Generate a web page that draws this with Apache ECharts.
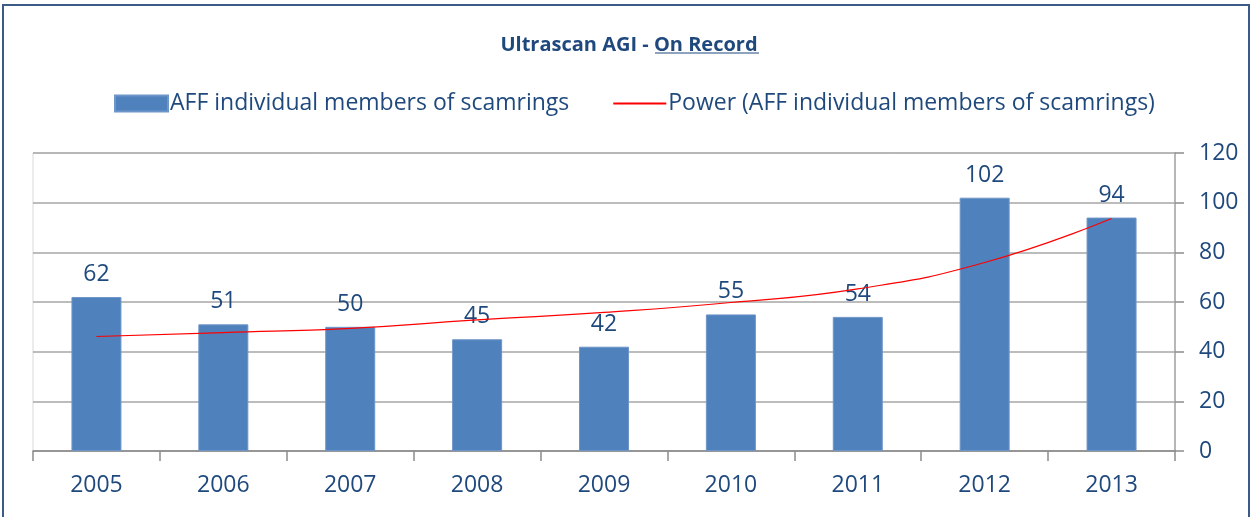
<!DOCTYPE html>
<html>
<head>
<meta charset="utf-8">
<script src="https://cdn.jsdelivr.net/npm/echarts@6/dist/echarts.min.js"></script>
<style>
  html, body { margin: 0; padding: 0; background: #fff; }
  .frame {
    position: absolute;
    left: 2px;
    top: 4px;
    width: 1248px;
    height: 530px;
    border: 2px solid #3b5a86;
    box-sizing: border-box;
  }
  #chart { position: absolute; left: 0; top: 0; width: 1258px; height: 517px; }
</style>
</head>
<body>
<div class="frame"></div>
<div id="chart"></div>
<script>
// data
const years = ["2005", "2006", "2007", "2008", "2009", "2010", "2011", "2012", "2013"];
const members = [62, 51, 50, 45, 42, 55, 54, 102, 94];
// power trendline as drawn in the reference (read at each year)
const powerTrend = [46.1, 47.7, 49.4, 52.8, 55.8, 59.8, 65.3, 75.9, 93.6];
const yTicks = [0, 20, 40, 60, 80, 100, 120];

const textColor = "#1f497d";
const font = "'Open Sans', sans-serif";

const chartInstance = echarts.init(document.getElementById("chart"));

const option = {
  animation: false,
  textStyle: { fontFamily: font },
  title: {
    text: "Ultrascan AGI - On Record",
    left: "center",
    top: 30,
    textStyle: {
      fontSize: 20,
      fontWeight: "bold",
      color: textColor,
      fontFamily: font
    }
  },
  legend: {
    top: 87,
    left: 109,
    itemGap: 43,
    itemWidth: 53,
    itemHeight: 16,
    textStyle: { fontSize: 23, color: textColor, fontFamily: font, padding: [0, 0, 0, -3] },
    data: [
      { name: "AFF individual members of scamrings", icon: "rect" },
      { name: "Power (AFF individual members of scamrings)", itemStyle: { opacity: 0 } }
    ]
  },
  grid: {
    left: 33,
    right: 83,
    top: 153,
    bottom: 66,
    show: true,
    borderColor: "#d9d9d9",
    borderWidth: 1
  },
  xAxis: {
    type: "category",
    data: years,
    axisLine: { lineStyle: { color: "#8c8c8c", width: 1.5 } },
    axisTick: { show: true, length: 10, lineStyle: { color: "#8c8c8c", width: 1.5 } },
    axisLabel: { fontSize: 23, color: textColor, margin: 23 }
  },
  yAxis: {
    type: "value",
    position: "right",
    min: yTicks[0],
    max: yTicks[yTicks.length - 1],
    interval: yTicks[1] - yTicks[0],
    axisLine: { show: true, lineStyle: { color: "#a6a6a6", width: 1.5 } },
    axisTick: { show: true, length: 9, lineStyle: { color: "#8c8c8c", width: 1.5 } },
    axisLabel: { fontSize: 23, color: textColor, margin: 24 },
    splitLine: { lineStyle: { color: "#a6a6a6", width: 1.5 } }
  },
  series: [
    {
      name: "AFF individual members of scamrings",
      type: "bar",
      data: members,
      barWidth: 50,
      itemStyle: { color: "#4f81bd", borderColor: "#6f96c9", borderWidth: 1 },
      label: {
        show: true,
        position: "top",
        distance: 11,
        fontSize: 23,
        color: textColor
      },
      z: 2
    },
    {
      name: "Power (AFF individual members of scamrings)",
      type: "line",
      data: powerTrend,
      smooth: true,
      symbol: "none",
      lineStyle: { color: "#ff0000", width: 1.2 },
      itemStyle: { color: "#ff0000" },
      z: 5
    }
  ],
  graphic: [
    {
      type: "line",
      shape: { x1: 655, y1: 53, x2: 759, y2: 53 },
      style: { stroke: textColor, lineWidth: 1.2 },
      z: 10
    }
  ]
};

chartInstance.setOption(option);
</script>
</body>
</html>
